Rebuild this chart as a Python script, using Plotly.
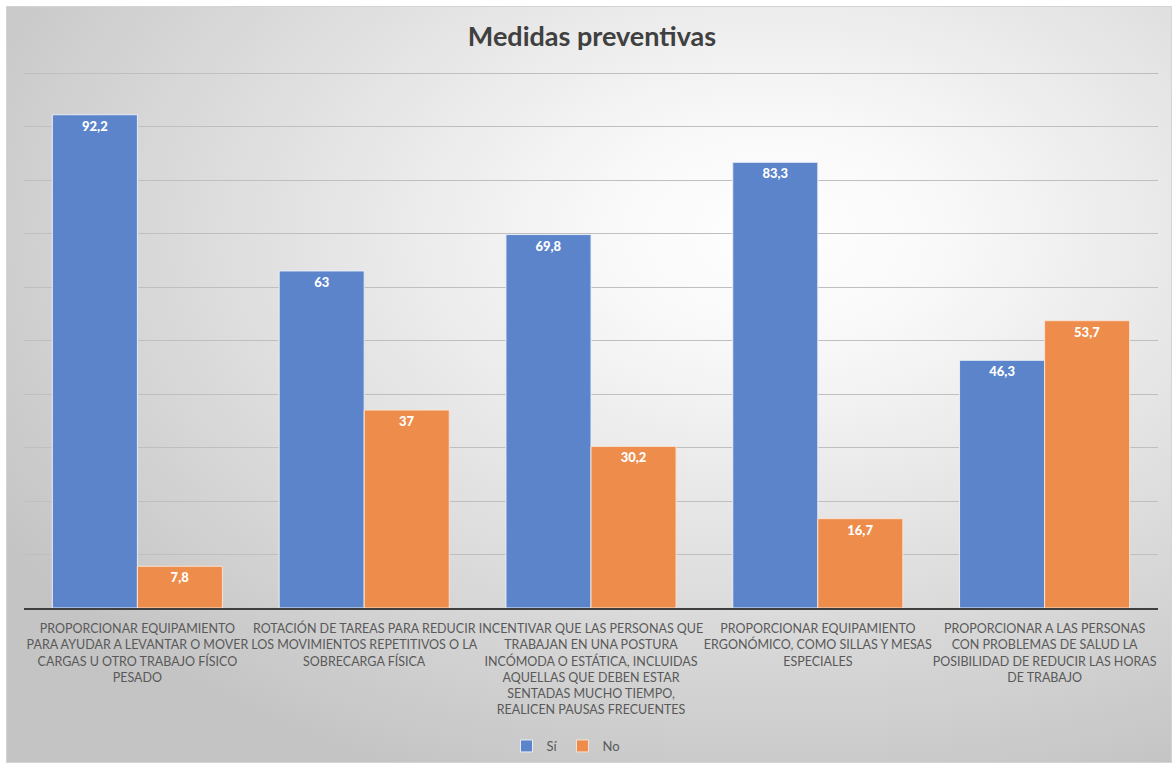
import plotly.graph_objects as go
import urllib.parse

categories = [
    "PROPORCIONAR EQUIPAMIENTO<br>PARA AYUDAR A LEVANTAR O MOVER<br>CARGAS U OTRO TRABAJO FÍSICO<br>PESADO",
    "ROTACIÓN DE TAREAS PARA REDUCIR<br>LOS MOVIMIENTOS REPETITIVOS O LA<br>SOBRECARGA FÍSICA",
    "INCENTIVAR QUE LAS PERSONAS QUE<br>TRABAJAN EN UNA POSTURA<br>INCÓMODA O ESTÁTICA, INCLUIDAS<br>AQUELLAS QUE DEBEN ESTAR<br>SENTADAS MUCHO TIEMPO,<br>REALICEN PAUSAS FRECUENTES",
    "PROPORCIONAR EQUIPAMIENTO<br>ERGONÓMICO, COMO SILLAS Y MESAS<br>ESPECIALES",
    "PROPORCIONAR A LAS PERSONAS<br>CON PROBLEMAS DE SALUD LA<br>POSIBILIDAD DE REDUCIR LAS HORAS<br>DE TRABAJO",
]
si_values = [92.2, 63, 69.8, 83.3, 46.3]
no_values = [7.8, 37, 30.2, 16.7, 53.7]
series_names = ["Sí", "No"]
title_text = "Medidas preventivas"

def fmt(v):
    return f"{v:g}".replace(".", ",")

FONT = "Lato"
W, H = 1174, 765
ML, MR, MT, MB = 24, 16, 70, 157
pw, ph = W - ML - MR, H - MT - MB
YMAX = 100 * ph / 535.0

svg = (
    "<svg xmlns='http://www.w3.org/2000/svg' width='1166' height='757' preserveAspectRatio='none'>"
    "<defs><radialGradient id='g' cx='0.66' cy='0.30' r='0.78' gradientUnits='objectBoundingBox'>"
    "<stop offset='0' stop-color='#ffffff'/><stop offset='0.2' stop-color='#f8f8f8'/>"
    "<stop offset='1' stop-color='#c4c4c4'/></radialGradient></defs>"
    "<rect x='0.5' y='0.5' width='1165' height='756' fill='url(#g)' stroke='#d4d4d4' stroke-width='1'/></svg>"
)
src = "data:image/svg+xml;charset=utf-8," + urllib.parse.quote(svg)

fig = go.Figure()
fig.add_bar(
    x=categories, y=si_values, name=series_names[0],
    marker=dict(color="#5b84cb", line=dict(color="#e8edf6", width=1)),
    text=[fmt(v) for v in si_values], textposition="inside", insidetextanchor="end",
    textfont=dict(color="white", size=13, family=FONT + " Black, " + FONT),
    textangle=0,
)
fig.add_bar(
    x=categories, y=no_values, name=series_names[1],
    marker=dict(color="#ee8c4b", line=dict(color="#f8e2d4", width=1)),
    text=[fmt(v) for v in no_values], textposition="inside", insidetextanchor="end",
    textfont=dict(color="white", size=13, family=FONT + " Black, " + FONT),
    textangle=0,
)

fig.update_layout(
    width=W, height=H,
    margin=dict(l=ML, r=MR, t=MT, b=MB, autoexpand=False),
    paper_bgcolor="white", plot_bgcolor="rgba(0,0,0,0)",
    barmode="group", bargap=0.25, bargroupgap=0,
    title=dict(text="<b>" + title_text + "</b>", x=(592 - ML) / pw, xref="paper", xanchor="center",
               y=1 - 37 / H, yanchor="middle",
               font=dict(family=FONT, size=27, color="#404040")),
    font=dict(family=FONT, color="#595959"),
    showlegend=True,
    legend=dict(orientation="h", x=(566 - ML) / pw, xanchor="center", y=(0 - (746 - (H - MB))) / ph,
                yanchor="middle", font=dict(size=13, color="#595959"), bgcolor="rgba(0,0,0,0)",
                itemwidth=30, traceorder="normal", tracegroupgap=0),
    uniformtext=dict(mode=False),
    images=[dict(source=src, xref="paper", yref="paper", x=(6 - ML) / pw, y=(H - 6 - MB) / ph,
                 sizex=1166 / pw, sizey=757 / ph, sizing="stretch", layer="below",
                 xanchor="left", yanchor="top")],
)
fig.update_xaxes(showline=True, linecolor="#3f3f3f", linewidth=2, ticks="", showgrid=False,
                 tickfont=dict(size=12.5, color="#595959", family=FONT), tickangle=0,
                 ticklabelstandoff=8, automargin=False)
fig.update_yaxes(range=[0, YMAX], tick0=0, dtick=10, showticklabels=False, showgrid=True,
                 gridcolor="#bfbfbf", gridwidth=1, zeroline=False, showline=False, automargin=False)

fig.write_html("out.html")
